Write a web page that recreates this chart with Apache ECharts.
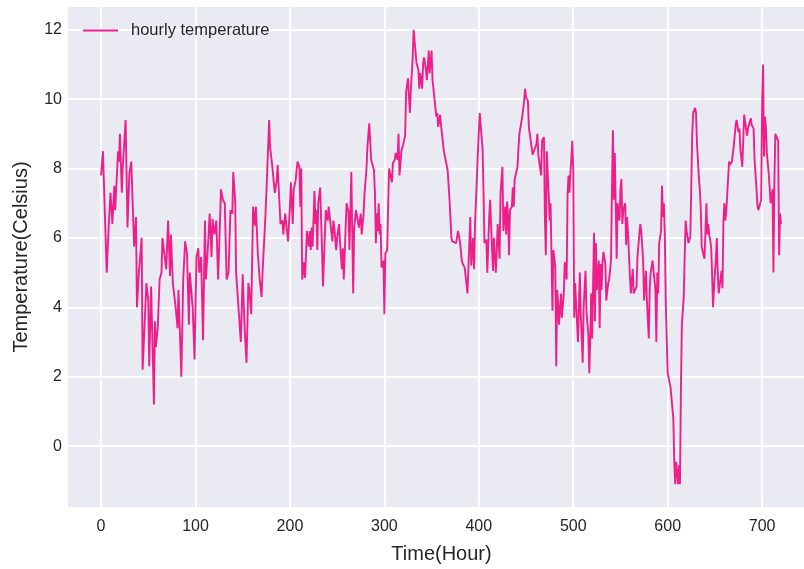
<!DOCTYPE html>
<html>
<head>
<meta charset="utf-8">
<title>Hourly temperature</title>
<script src="https://cdn.jsdelivr.net/npm/echarts@6/dist/echarts.min.js"></script>
<style>
  html, body { margin: 0; padding: 0; background: #ffffff; }
  #chart { width: 804px; height: 569px; overflow: hidden; }
</style>
</head>
<body>
<div id="chart"></div>
<script>
// Hour index of each reading (rows of ten line up with temps below)
const hours = [
  0,2,6,8,10,12,14,15,18,19,
  20,22,23,26,28,30,32,35,37,38,
  40,43,44,48,50,51,53,56,57,58,
  60,62,64,65,67,69,71,73,74,76,
  79,81,82,85,87,89,91,93,94,97,
  99,101,103,104,106,108,110,111,113,115,
  117,118,120,122,124,127,129,131,133,135,
  137,139,140,142,143,145,148,150,152,154,
  156,157,159,161,163,164,166,168,170,171,
  174,176,178,179,181,182,184,186,187,188,
  190,192,193,195,196,198,200,201,203,204,
  206,208,210,211,212,213,
  215,216,218,220,221,222,223,224,226,227,
  228,229,230,232,234,235,237,238,240,241,
  243,245,246,247,249,250,252,253,255,256,
  257,259,260,262,263,265,267,268,270,272,
  273,275,276,278,279,281,282,284,286,287,
  289,290,291,292,293,294,295,296,297,299,
  300,301,303,304,305,306,308,309,311,312,
  314,315,316,
  318,320,322,323,325,327,328,330,331,333,
  334,336,337,338,340,341,342,344,345,347,
  348,350,351,353,355,356,357,359,360,362,
  363,365,367,369,371,372,374,376,377,378,
  380,382,383,385,386,388,389,391,392,394,
  395,396,398,399,401,404,405,406,408,409,
  411,412,413,415,416,418,419,420,422,423,
  425,426,
  428,429,430,431,432,433,435,436,437,438,
  440,441,442,443,445,446,448,449,450,452,
  453,455,457,458,459,461,462,463,465,466,
  467,469,470,471,472,474,475,476,478,479,
  481,482,483,484,485,487,488,490,491,493,
  494,495,496,497,499,500,501,502,504,505,
  507,508,510,511,513,514,516,517,518,519,
  520,522,523,524,525,527,528,
  529,530,531,532,534,535,537,538,540,541,
  542,543,544,546,547,549,550,551,552,553,
  555,556,557,558,560,561,563,564,565,567,
  568,570,571,572,574,575,577,578,580,581,
  582,584,585,587,588,589,590,591,593,594,
  595,596,597,598,600,601,603,604,606,607,
  608,609,611,612,613,614,615,617,618,619,
  620,622,623,624,626,627,629,630,631,633,
  634,635,636,638,639,641,642,643,644,646,
  647,648,650,651,652,653,654,656,657,658,
  659,660,661,662,663,665,666,668,670,671,
  672,673,675,676,677,679,680,681,682,684,
  685,687,688,689,691,692,694,695,696,698,
  699,700,701,702,703,704,705,707,708,709,
  711,712,713,714,716,717,718,719,720
];

// Temperature in degrees Celsius at each hour above
const temps = [
  7.8,8.5,5.0,6.3,7.3,6.4,7.5,6.8,8.5,8.2,
  9.0,7.3,8.05,9.4,6.3,7.85,8.2,5.75,6.6,4.0,
  4.97,6.0,2.2,4.7,4.2,2.3,4.6,1.2,3.6,2.85,
  3.4,4.8,5.0,6.0,6.05,5.1,6.5,4.9,6.1,4.7,
  4.0,3.4,4.5,2.0,4.8,5.9,5.55,3.5,5.0,4.0,
  2.5,5.45,5.7,5.0,5.45,3.05,6.5,4.8,5.65,6.7,
  5.45,6.55,6.1,6.5,4.8,7.4,7.1,7.0,4.8,5.0,
  6.8,6.7,7.9,7.1,5.0,4.95,3.0,4.95,3.4,2.4,
  4.7,4.5,3.8,6.9,6.35,6.9,5.55,4.8,4.3,5.0,
  6.6,7.95,9.4,8.6,8.15,8.1,7.3,7.65,8.1,7.5,
  6.4,6.5,6.1,6.7,6.65,5.9,6.9,7.6,6.4,7.4,
  7.65,8.2,8.05,6.9,8.0,4.8,
  5.3,4.85,6.2,5.75,6.2,5.65,6.3,5.75,7.35,6.4,
  6.8,5.65,7.0,7.45,5.65,4.6,6.1,6.8,6.5,6.9,
  6.9,5.9,6.5,6.3,5.65,6.0,6.4,5.9,5.1,5.7,
  4.8,6.3,7.0,6.75,5.65,7.9,4.4,6.3,6.8,6.8,
  6.3,6.7,6.1,6.7,7.3,7.95,8.6,9.3,8.25,8.15,
  7.95,7.3,5.85,6.7,6.2,7.0,6.1,6.4,5.15,5.35,
  3.8,5.55,5.65,6.9,8.0,8.0,7.6,8.15,8.25,8.45,
  8.25,9.0,7.8,
  8.5,8.7,8.95,10.2,10.6,9.6,10.25,11.2,12.0,12.0,
  11.05,10.85,10.3,10.75,10.3,11.0,11.2,10.85,10.55,11.4,
  10.75,11.4,10.55,10.6,9.5,9.6,9.2,9.55,9.25,9.3,
  8.5,8.45,7.95,7.1,6.0,5.9,5.95,5.85,5.9,6.2,
  5.9,5.35,5.25,5.15,5.2,4.4,5.15,6.6,5.2,6.0,
  5.1,6.4,7.75,8.45,9.6,8.55,7.3,5.85,5.95,5.0,
  6.6,7.1,6.4,5.05,6.0,5.0,5.65,6.4,5.4,7.3,
  8.05,6.2,
  6.9,6.1,7.05,6.6,5.5,6.8,6.9,7.45,6.9,7.7,
  7.75,8.05,8.6,9.0,9.05,9.5,9.95,10.3,10.05,9.95,
  9.2,8.8,8.4,8.45,8.35,8.7,9.0,8.4,8.45,7.8,
  8.8,8.9,6.6,5.5,8.5,7.25,6.5,7.0,3.9,5.65,
  5.15,2.3,4.5,4.1,3.5,4.4,3.7,4.4,5.3,4.8,
  7.25,7.8,7.3,7.85,8.8,7.95,3.7,4.7,4.65,3.0,
  5.0,3.8,2.4,4.0,5.05,3.9,3.2,2.1,3.1,4.4,
  3.1,6.15,3.6,5.85,4.5,5.35,3.4,
  5.25,4.5,5.3,5.6,5.25,4.2,4.7,4.8,5.35,7.4,
  9.1,7.1,8.45,5.4,7.0,6.5,7.4,7.7,6.4,6.8,
  7.0,5.8,6.6,6.15,4.9,4.4,5.1,4.4,4.4,4.6,
  5.45,6.1,6.4,6.2,5.35,4.2,5.05,4.2,3.1,4.55,
  5.0,5.35,5.4,4.5,3.0,5.0,4.4,5.85,6.2,7.5,
  6.6,7.0,6.05,4.1,2.1,2.05,1.7,1.65,0.8,-0.5,
  -1.1,-0.45,-1.1,-0.55,-1.1,1.6,3.5,4.3,5.45,6.5,
  6.2,5.85,5.8,6.05,9.0,9.6,9.75,9.6,8.75,7.75,
  7.4,6.9,5.75,5.5,5.4,7.0,6.1,6.4,6.1,5.75,
  5.0,4.0,5.0,5.35,6.0,5.0,4.4,4.45,5.05,4.55,
  6.45,7.0,6.5,6.75,6.8,8.2,8.1,8.2,8.65,8.6,
  9.25,9.4,9.05,9.15,8.55,8.05,8.8,9.55,9.5,8.95,
  9.15,9.35,9.45,9.25,9.15,8.25,7.45,6.95,6.8,6.75,
  7.1,9.8,11.0,8.35,9.5,9.2,8.45,7.85,7.45,7.0,
  7.4,5.0,7.65,9.0,9.0,8.8,5.5,6.7,6.4
];

// Tick positions on each axis
const xTicks = [0, 100, 200, 300, 400, 500, 600, 700];
const yTicks = [0, 2, 4, 6, 8, 10, 12];

const seriesName = 'hourly temperature';
const lineColor = '#ee1f8b';
const textColor = '#262626';
const fontFamily = '"Liberation Sans", Arial, Helvetica, sans-serif';

const points = hours.map((h, i) => [h, temps[i]]);

const chart = echarts.init(document.getElementById('chart'), null, { renderer: 'canvas' });

chart.setOption({
  animation: false,
  backgroundColor: '#ffffff',
  textStyle: { fontFamily: fontFamily },
  // the plotting area runs a little past the right edge of the canvas
  grid: {
    left: 68,
    top: 7,
    width: 747,
    bottom: 62,
    show: true,
    backgroundColor: '#EAEAF2',
    borderWidth: 0,
    containLabel: false,
    outerBoundsMode: 'none'
  },
  legend: {
    data: [{ name: seriesName, icon: 'rect' }],
    left: 83,
    top: 22,
    padding: 0,
    itemWidth: 35,
    itemHeight: 2,
    itemStyle: { color: lineColor },
    textStyle: {
      fontSize: 16.5,
      color: textColor,
      fontFamily: fontFamily,
      padding: [0, 0, 0, 8]
    }
  },
  xAxis: {
    type: 'value',
    min: -35,
    max: 756,
    name: 'Time(Hour)',
    nameLocation: 'middle',
    nameGap: 37,
    nameTextStyle: { fontSize: 20, color: textColor, fontFamily: fontFamily },
    axisLine: { show: false },
    axisTick: { show: false, customValues: xTicks },
    axisLabel: {
      customValues: xTicks,
      fontSize: 16,
      color: textColor,
      margin: 12,
      fontFamily: fontFamily
    },
    splitLine: { show: true, lineStyle: { color: '#ffffff', width: 1.8 } }
  },
  yAxis: {
    type: 'value',
    min: -1.755,
    max: 12.655,
    name: 'Temperature(Celsius)',
    nameLocation: 'middle',
    nameGap: 37,
    nameTextStyle: { fontSize: 20, color: textColor, fontFamily: fontFamily },
    axisLine: { show: false },
    axisTick: { show: false, customValues: yTicks },
    axisLabel: {
      customValues: yTicks,
      fontSize: 16,
      color: textColor,
      margin: 6,
      fontFamily: fontFamily
    },
    splitLine: { show: true, lineStyle: { color: '#ffffff', width: 1.8 } }
  },
  series: [{
    name: seriesName,
    type: 'line',
    data: points,
    symbol: 'none',
    showSymbol: false,
    clip: true,
    lineStyle: { color: lineColor, width: 1.9 },
    itemStyle: { color: lineColor }
  }]
});
</script>
</body>
</html>
